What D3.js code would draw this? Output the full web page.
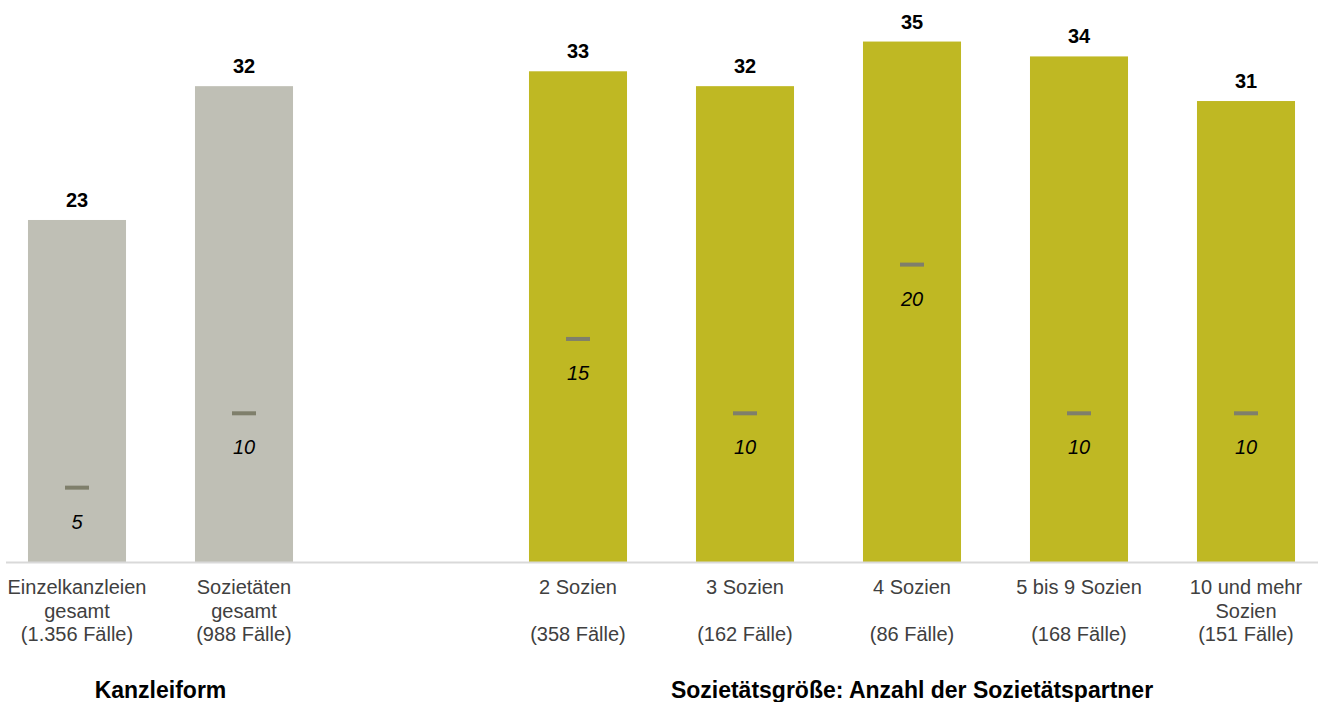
<!DOCTYPE html>
<html>
<head>
<meta charset="utf-8">
<script src="https://cdn.jsdelivr.net/npm/d3@7"></script>
<style>
  html, body { margin: 0; padding: 0; background: #fff; }
  svg { display: block; font-family: "Liberation Sans", Arial, sans-serif; }
</style>
</head>
<body>
<svg id="chart" width="1318" height="702"></svg>
<script>
// Kanzleiform and Sozietätsgröße: mean (bar) and median (marker) per category
const categories = ["Einzelkanzleien gesamt", "Sozietäten gesamt", "2 Sozien", "3 Sozien",
                    "4 Sozien", "5 bis 9 Sozien", "10 und mehr Sozien"];
const labelLines = [
  ["Einzelkanzleien", "gesamt", "(1.356 Fälle)"],
  ["Sozietäten", "gesamt", "(988 Fälle)"],
  ["2 Sozien", "", "(358 Fälle)"],
  ["3 Sozien", "", "(162 Fälle)"],
  ["4 Sozien", "", "(86 Fälle)"],
  ["5 bis 9 Sozien", "", "(168 Fälle)"],
  ["10 und mehr", "Sozien", "(151 Fälle)"]
];
const meanValues = [23, 32, 33, 32, 35, 34, 31];
const medianValues = [5, 10, 15, 10, 20, 10, 10];
const groupNames = ["Kanzleiform", "Sozietätsgröße: Anzahl der Sozietätspartner"];
const groupOf = [0, 0, 1, 1, 1, 1, 1];
const groupColors = ["#bfbfb5", "#bfb823"];

const rows = categories.map((c, i) => ({
  key: c, lines: labelLines[i], mean: meanValues[i], median: medianValues[i], group: groupOf[i]
}));

// one empty slot separates the two groups
const slots = [categories[0], categories[1], "gap", ...categories.slice(2)];

const svg = d3.select("#chart");
const baseY = 562;

const x = d3.scaleBand()
  .domain(slots)
  .range([-6.5, 1329.5])
  .paddingInner(0.413)
  .paddingOuter(0.2065);

const y = d3.scaleLinear().domain([0, 38]).range([baseY, baseY - 38 * 14.87]);

const cx = d => x(d.key) + x.bandwidth() / 2;

// bars
svg.append("g").selectAll("rect")
  .data(rows).join("rect")
  .attr("x", d => x(d.key))
  .attr("width", x.bandwidth())
  .attr("y", d => y(d.mean))
  .attr("height", d => y(0) - y(d.mean))
  .attr("fill", d => groupColors[d.group]);

// baseline
svg.append("line")
  .attr("x1", 6).attr("x2", 1318)
  .attr("y1", baseY + 0.5).attr("y2", baseY + 0.5)
  .attr("stroke", "#d9d9d9").attr("stroke-width", 2);

// mean labels
svg.append("g").selectAll("text")
  .data(rows).join("text")
  .attr("x", cx)
  .attr("y", d => y(d.mean) - 13)
  .attr("text-anchor", "middle")
  .attr("font-size", 20).attr("font-weight", "bold")
  .attr("fill", "#000")
  .text(d => d.mean);

// median markers
svg.append("g").selectAll("rect")
  .data(rows).join("rect")
  .attr("x", d => cx(d) - 12)
  .attr("width", 24)
  .attr("y", d => y(d.median) - 2)
  .attr("height", 4)
  .attr("fill", "#7f7f6b");

// median labels
svg.append("g").selectAll("text")
  .data(rows).join("text")
  .attr("x", cx)
  .attr("y", d => y(d.median) + 41)
  .attr("text-anchor", "middle")
  .attr("font-size", 20).attr("font-style", "italic")
  .attr("fill", "#000")
  .text(d => d.median);

// category labels
const cat = svg.append("g").selectAll("text")
  .data(rows).join("text")
  .attr("text-anchor", "middle")
  .attr("font-size", 20)
  .attr("fill", "#404040");
cat.each(function(d) {
  const t = d3.select(this);
  d.lines.forEach((ln, i) => {
    t.append("tspan").attr("x", cx(d)).attr("y", 594 + i * 23.5).text(ln);
  });
});

// group titles, centred under their categories
const groupCenters = groupNames.map((g, gi) => {
  const members = rows.filter(r => r.group === gi);
  return (d3.min(members, r => x(r.key)) + d3.max(members, r => x(r.key) + x.bandwidth())) / 2;
});
svg.append("g").selectAll("text")
  .data(groupNames).join("text")
  .attr("x", (d, i) => groupCenters[i])
  .attr("y", 698)
  .attr("text-anchor", "middle")
  .attr("font-size", 23).attr("font-weight", "bold")
  .attr("fill", "#000")
  .text(d => d);
</script>
</body>
</html>
